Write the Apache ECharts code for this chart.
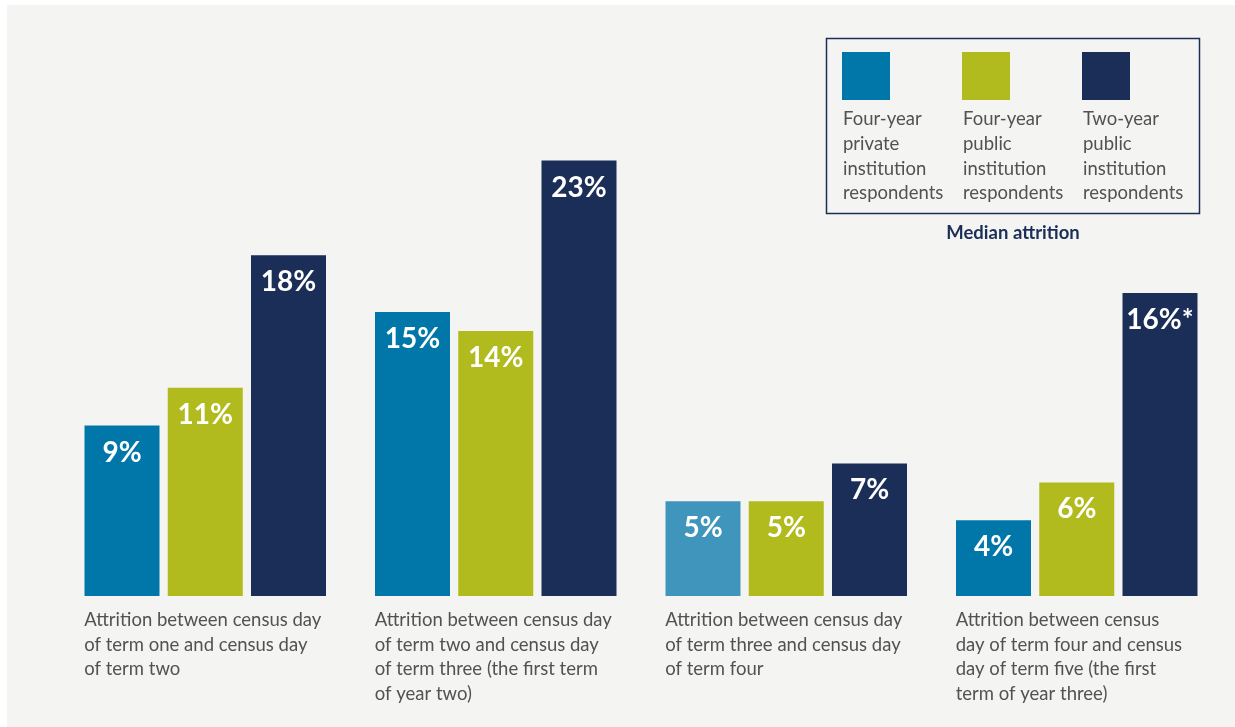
<!DOCTYPE html>
<html>
<head>
<meta charset="utf-8">
<script src="https://cdn.jsdelivr.net/npm/echarts@6/dist/echarts.min.js"></script>
<style>
html,body{margin:0;padding:0;background:#ffffff;}
#chart{width:1235px;height:727px;}
</style>
</head>
<body>
<div id="chart"></div>
<script>
// ---- data ----
var categories = [
  'Attrition between census day\nof term one and census day\nof term two',
  'Attrition between census day\nof term two and census day\nof term three (the first term\nof year two)',
  'Attrition between census day\nof term three and census day\nof term four',
  'Attrition between census\nday of term four and census\nday of term five (the first\nterm of year three)'
];
var seriesNames = [
  'Four-year\nprivate\ninstitution\nrespondents',
  'Four-year\npublic\ninstitution\nrespondents',
  'Two-year\npublic\ninstitution\nrespondents'
];
var privateFourYear = [9, 15, 5, 4];
var publicFourYear = [11, 14, 5, 6];
var publicTwoYear = [18, 23, 7, 16];
var footnoteMarks = [
  ['', '', '', ''],
  ['', '', '', ''],
  ['', '', '', '*']
];
var legendTitle = 'Median attrition';

// ---- styles ----
var colors = ['#0077a8', '#b1bb1e', '#1a2e57'];
var itemColorOverrides = [[null, null, '#3f95bb', null], [null, null, null, null], [null, null, null, null]];
var FONT = 'Lato, "Open Sans", sans-serif';
var TEXT_GRAY = '#525252';

var seriesValues = [privateFourYear, publicFourYear, publicTwoYear];

var chart = echarts.init(document.getElementById('chart'), null, {renderer: 'canvas'});

var series = seriesValues.map(function (vals, si) {
  return {
    type: 'bar',
    name: seriesNames[si],
    barWidth: 75,
    barGap: '11%',
    itemStyle: {color: colors[si]},
    label: {
      show: true,
      position: 'insideTop',
      distance: 13,
      color: '#ffffff',
      fontFamily: FONT,
      fontWeight: 'bold',
      fontSize: 28,
      formatter: function (p) {
        return p.value + '%' + footnoteMarks[p.seriesIndex][p.dataIndex];
      }
    },
    data: vals.map(function (v, di) {
      var c = itemColorOverrides[si][di];
      return c ? {value: v, itemStyle: {color: c}} : v;
    })
  };
});

// legend graphic
var graphics = [
  {type: 'rect', z: -100, shape: {x: 7, y: 5, width: 1240, height: 740}, style: {fill: '#f4f4f2'}},
  {type: 'rect', shape: {x: 826.5, y: 38.5, width: 373, height: 175}, style: {fill: 'none', stroke: '#1a2e57', lineWidth: 1.5}}
];
var legendX = [842, 962, 1082];
for (var i = 0; i < 3; i++) {
  graphics.push({type: 'rect', shape: {x: legendX[i], y: 52, width: 48, height: 48}, style: {fill: colors[i]}});
  graphics.push({
    type: 'text', x: legendX[i] + 1, y: 107,
    style: {text: seriesNames[i], fill: TEXT_GRAY, font: '18.5px ' + FONT, lineHeight: 24.7, textVerticalAlign: 'top'}
  });
}
graphics.push({
  type: 'text', x: 1013, y: 233,
  style: {text: legendTitle, fill: '#1a2e57', font: 'bold 18.5px ' + FONT, textAlign: 'center', textVerticalAlign: 'middle'}
});

var option = {
  backgroundColor: '#ffffff',
  animation: false,
  grid: {left: 60, right: 13, top: 28, bottom: 131},
  xAxis: {
    type: 'category',
    data: categories,
    axisLine: {show: false},
    axisTick: {show: false},
    axisLabel: {
      interval: 0,
      margin: 12,
      align: 'center',
      verticalAlign: 'top',
      formatter: function (v) {
        return v.split('\n').map(function (l) { return '{a|' + l + '}'; }).join('\n');
      },
      rich: {
        a: {width: 242, align: 'left', fontSize: 18.5, lineHeight: 24.5, color: TEXT_GRAY, fontFamily: FONT}
      }
    }
  },
  yAxis: {type: 'value', min: 0, max: 30, show: false, splitLine: {show: false}},
  graphic: graphics,
  series: series
};
chart.setOption(option);
</script>
</body>
</html>
